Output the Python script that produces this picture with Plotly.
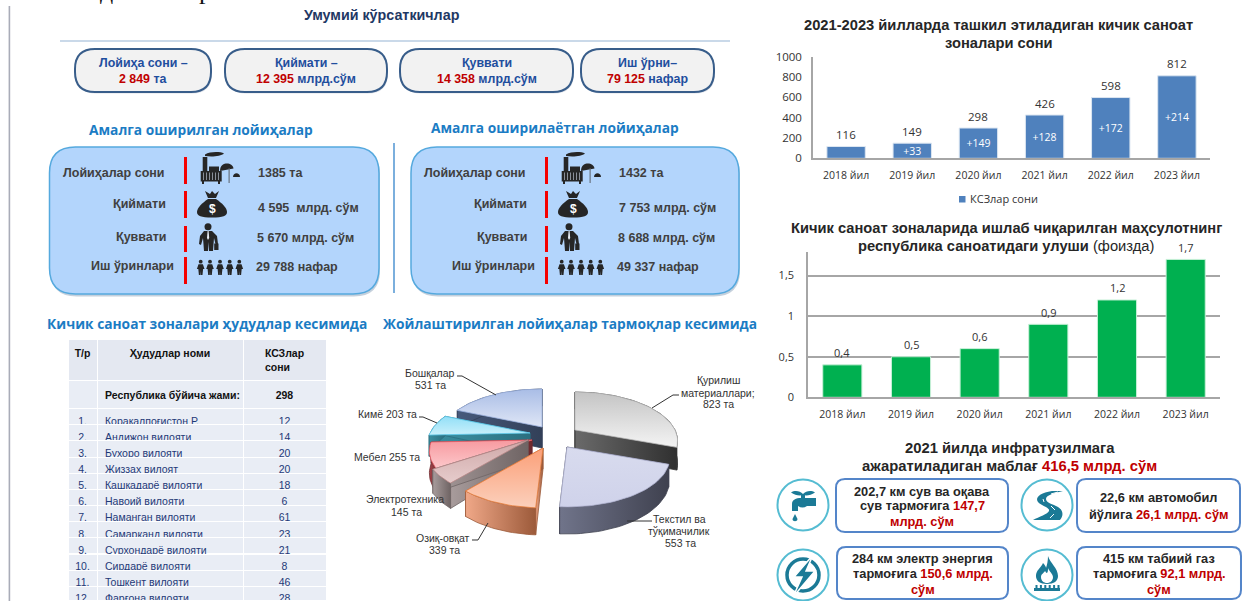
import math
import re
import plotly.graph_objects as go

W, H = 1249, 601

# ---------- data ----------
years = ["2018 йил", "2019 йил", "2020 йил", "2021 йил", "2022 йил", "2023 йил"]
zone_counts = [116, 149, 298, 426, 598, 812]
zone_increments = [None, 33, 149, 128, 172, 214]
industry_shares = [0.4, 0.5, 0.6, 0.9, 1.2, 1.7]

sector_names = ["Қурилиш материаллари;", "Текстил ва тўқимачилик", "Озиқ-овқат", "Электротехника", "Мебел", "Кимё", "Бошқалар"]
sector_counts = [823, 553, 339, 145, 255, 203, 531]

region_numbers = ["1.", "2.", "3.", "4.", "5.", "6.", "7.", "8.", "9.", "10.", "11.", "12.", "13.", "14."]
region_names = ["Қорақалпоғистон Р.", "Андижон вилояти", "Бухоро вилояти", "Жиззах вилоят", "Қашқадарё вилояти",
                "Навоий вилояти", "Наманган вилояти", "Самарканд вилояти", "Сурхондарё вилояти", "Сирдарё вилояти",
                "Тошкент вилояти", "Фарғона вилояти", "Хоразм вилояти", "Тошкент шаҳри"]
region_counts = [12, 14, 20, 20, 18, 6, 61, 23, 21, 8, 46, 28, 13, 8]
region_total = 298

row_labels = ["Лойиҳалар сони", "Қиймати", "Қуввати", "Иш ўринлари"]
done_values = ["1385 та", "4 595  млрд. сўм", "5 670 млрд. сўм", "29 788 нафар"]
ongoing_values = ["1432 та", "7 753 млрд. сўм", "8 688 млрд. сўм", "49 337 нафар"]

# ---------- helpers (pixel -> paper) ----------
SANS = "Liberation Sans"
OPEN = "Open Sans"
shapes, notes = [], []


def fx(x):
    return x / W


def fy(y):
    return 1 - y / H


def T(x, y, text, size=12, color="#404040", bold=False, font=SANS, anchor="center"):
    notes.append(dict(x=fx(x), y=fy(y), xref="paper", yref="paper", text=f"<b>{text}</b>" if bold else text,
                      showarrow=False, xanchor=anchor, yanchor="middle", borderpad=0, borderwidth=0,
                      font=dict(family=font, size=size, color=color), align="center"))


def path(d, ox=0, oy=0, fill="#262626", line=None, lw=0, opacity=1):
    toks = re.findall(r"[A-Za-z]|-?\d+\.?\d*", d)
    out, i = [], 0
    for t in toks:
        if t.isalpha():
            out.append(t)
        else:
            v = float(t)
            out.append(f"{fx(v + ox):.5f}" if i % 2 == 0 else f"{fy(v + oy):.5f}")
            i += 1
    s = dict(type="path", xref="paper", yref="paper", path=" ".join(out), fillcolor=fill, opacity=opacity,
             line=dict(color=line or "rgba(0,0,0,0)", width=lw))
    shapes.append(s)


def rrect(x0, y0, x1, y1, r, fill, line=None, lw=0, opacity=1):
    d = (f"M {x0 + r} {y0} L {x1 - r} {y0} Q {x1} {y0} {x1} {y0 + r} L {x1} {y1 - r} Q {x1} {y1} {x1 - r} {y1} "
         f"L {x0 + r} {y1} Q {x0} {y1} {x0} {y1 - r} L {x0} {y0 + r} Q {x0} {y0} {x0 + r} {y0} Z")
    path(d, fill=fill, line=line, lw=lw, opacity=opacity)


def rect(x0, y0, x1, y1, fill):
    shapes.append(dict(type="rect", xref="paper", yref="paper", x0=fx(x0), x1=fx(x1), y0=fy(y0), y1=fy(y1),
                       fillcolor=fill, line=dict(width=0)))


def circle(cx, cy, r, fill="rgba(0,0,0,0)", line=None, lw=0):
    shapes.append(dict(type="circle", xref="paper", yref="paper", x0=fx(cx - r), x1=fx(cx + r), y0=fy(cy - r),
                       y1=fy(cy + r), fillcolor=fill, line=dict(color=line or "rgba(0,0,0,0)", width=lw)))


def seg(pts, color="#333333", w=1.0):
    shapes.append(dict(type="path", xref="paper", yref="paper",
                       path="M " + " L ".join(f"{fx(x):.5f} {fy(y):.5f}" for x, y in pts),
                       line=dict(color=color, width=w)))


# ---------- page furniture ----------
rect(8.6, 6, 10.2, 601, "#a9acb8")
for x, ch in [(57, "ч"), (106, "д"), (205, "р")]:
    T(x, -10, ch, size=26, color="#111111", font="Liberation Serif")

T(382, 15.5, "Умумий кўрсаткичлар", 14.3, "#1f3864", True)
rect(60, 40.2, 730, 41.8, "#b9cde2")

NAVY, BLUE, RED = "#385d8a", "#1f4e9e", "#c00000"
pills = [(75, 211, "Лойиҳа сони –", "2 849", " та"),
         (225, 387, "Қиймати –", "12 395", " млрд.сўм"),
         (400, 573, "Қуввати", "14 358", " млрд.сўм"),
         (581, 714, "Иш ўрни–", "79 125", " нафар")]
for x0, x1, a, b, c in pills:
    rrect(x0 + 1, 50, x1 + 1, 93.5, 20, "#c9cfd8", opacity=0.6)
    rrect(x0, 49, x1, 92, 20, "#f2f2f2", NAVY, 2)
    xc = (x0 + x1) / 2
    T(xc, 63, a, 12.4, BLUE, True)
    T(xc, 78.5, f'<span style="color:{RED}">{b}</span>{c}', 12.4, BLUE, True)

HEAD = "#1b7cc4"
T(201, 129, "Амалга оширилган лойиҳалар", 13.75, HEAD, True, OPEN)
T(555, 127, "Амалга оширилаётган лойиҳалар", 13.75, HEAD, True, OPEN)
T(207, 323, "Кичик саноат зоналари ҳудудлар кесимида", 13.75, HEAD, True, OPEN)
T(570, 323, "Жойлаштирилган лойиҳалар тармоқлар кесимида", 13.75, HEAD, True, OPEN)
rect(393.2, 143, 394.8, 293, "#5b9bd5")


# ---------- icons ----------
def icons_panel(o):
    D = "#262626"
    path("M 205 154.5 C 210 151.5 220 151.5 224 153.5 C 221 156.5 211 157 205 156 Z", o, 0, D)
    rect(202.7 + o, 157, 207.3 + o, 172, D)
    rect(209 + o, 166.5, 219 + o, 172, D)
    rect(200.7 + o, 171, 221.7 + o, 181.5, D)
    for i in range(6):
        rect(203 + o + 3 * i, 172.5, 204 + o + 3 * i, 180, "#8a8f98")
    rect(202 + o, 181, 204 + o, 184, D)
    rect(218 + o, 181, 220 + o, 184, D)
    path("M 220 171 C 220 165 224 163.5 227 163.5 C 230 163.5 233 165 233.5 168.5 L 220 171 Z", o, 0, D)
    rect(228.6 + o, 168, 229.6 + o, 183, "#5b6068")
    path("M 233 177 C 233 172 240 172 240 177 Z", o, 0, D)
    # money bag
    path("M 205 191 L 210 194 L 212 191 L 215 194 L 219 191 L 216 198 L 208 198 Z", o, 0, D)
    path("M 208 199 L 216 199 C 222 203 227 208 227 212 C 227 216 223 217.5 212 217.5 "
         "C 201 217.5 197 216 197 212 C 197 208 202 203 208 199 Z", o, 0, D)
    T(212 + o, 208.5, "$", 12, "#ffffff", True)
    # man
    circle(208 + o, 226.8, 3.5, D)
    path("M 204 231 L 212 231 L 217 236 L 218 244 L 215.5 244 L 214 238 L 213 251 L 209 251 L 208.5 242 "
         "L 208 251 L 204 251 L 203 238 L 201 245 L 199 244 L 200 236 Z", o, 0, D)
    rect(214.2 + o, 243.5, 218.5 + o, 250, D)
    path("M 207.6 231 L 208.6 231 L 209.2 238 L 208 240 L 207 238 Z", o, 0, "#e8eef6")
    # people
    for c in (200.7, 210, 220, 229.7, 239.3):
        circle(c + o, 261.7, 1.9, D)
        path(f"M {c - 2.2} 264.2 L {c + 2.2} 264.2 L {c + 3.8} 269 L {c + 2.4} 269 L {c + 1.8} 275 L {c + 0.2} 275 "
             f"L {c} 271 L {c - 0.2} 275 L {c - 1.8} 275 L {c - 2.4} 269 L {c - 3.8} 269 Z", o, 0, D)


LBLUE = "#b3d5fc"
for x0, x1, vals, off in [(49.5, 379, done_values, 0), (411, 739, ongoing_values, 361)]:
    rrect(x0 + 1, 149, x1 + 1, 296.5, 26, "#9eb0c4", opacity=0.6)
    rrect(x0, 147, x1, 294, 26, LBLUE, "#55a9de", 1.5)
    for y0, y1 in [(157, 184), (191, 218), (226, 252), (257, 284)]:
        rect(184 + off, y0, 187 + off, y1, "#f50000")
    T(165 + off, 173, row_labels[0], 12.5, "#404040", True, anchor="right")
    T(166 + off, 204, row_labels[1], 12.5, "#404040", True, anchor="right")
    T(167 + off, 237, row_labels[2], 12.5, "#404040", True, anchor="right")
    T(174 + off, 266, row_labels[3], 12.5, "#404040", True, anchor="right")
    T(258 + off, 173, vals[0], 12.5, "#404040", True, anchor="left")
    T(258 + off, 208, vals[1], 12.5, "#404040", True, anchor="left")
    T(257 + off, 238, vals[2], 12.5, "#404040", True, anchor="left")
    T(256 + off, 267, vals[3], 12.5, "#404040", True, anchor="left")
    icons_panel(off)

# ---------- infrastructure block ----------
TEAL, RING, EDGE = "#1b7a96", "#55bcd2", "#5485c9"
T(1010, 448, "2021 йилда инфратузилмага", 14.8, "#262626", True)
T(1009, 466, f'ажаратиладиган маблағ <span style="color:{RED}">416,5 млрд. сўм</span>', 14.8, "#262626", True)


def R(s):
    return f'<span style="color:{RED}">{s}</span>'


boxes = [(836, 479, 1008, 532, [(491, "202,7 км сув ва оқава"), (505.5, "сув тармоғига " + R("147,7")), (521, R("млрд. сўм"))]),
         (1077, 479, 1240, 532, [(497, "22,6 км автомобил"), (514, "йўлига " + R("26,1 млрд. сўм"))]),
         (837, 547, 1008, 599, [(558, "284 км электр энергия"), (573.5, "тармоғига " + R("150,6 млрд.")), (589, R("сўм"))]),
         (1077, 547, 1241, 599, [(558, "415 км табиий газ"), (573.5, "тармоғига " + R("92,1 млрд.")), (589, R("сўм"))])]
for x0, y0, x1, y1, lines in boxes:
    rrect(x0, y0, x1, y1, 9, "#ffffff", EDGE, 2)
    for y, s in lines:
        T((x0 + x1) / 2, y, s, 12.8, "#262626", True)

for cx, cy in [(803, 505), (1047, 505), (803, 575), (1047, 575)]:
    circle(cx, cy, 25.5, "#ffffff", RING, 2)
# tap
cx, cy = 803, 505
path("M -12 -12.5 C -8 -15 -3 -14 0 -11 C 3 -14 8 -15 12 -12.5 C 8 -9.5 3 -9 0 -10 C -3 -9 -8 -9.5 -12 -12.5 Z", cx, cy, TEAL)
path("M -11 -1 C -11 -5 -7 -7 -2 -7 L -2 -10 L 2 -10 L 2 -7 L 13 -7 L 13 1 L 4 1 C 1 3 -2 3 -5 1 L -5 6 L -11 6 Z", cx, cy, TEAL)
path("M -7.5 9 L -5 14 C -5 17 -10 17 -10 14 Z", cx - 0.5, cy, TEAL)
# road
cx, cy = 1047, 505
path("M 16 -14 L 5 -14 C -8 -12 -12 -7 -9 -3 C -6 1 3 2 2 6 C 1 9 -8 12 -14 15 L 13 15 C 17 10 16 5 11 2 "
     "C 6 -1 -1 -2 -1 -6 C -1 -10 8 -12 16 -14 Z", cx, cy, TEAL)
path("M 11 -13 L 4 -11 M -4 -6 L -3 -3 M 4 1 L 8 5 M 7 9 L 3 13", cx, cy, "rgba(0,0,0,0)", "#ffffff", 1)
# lightning
cx, cy = 803, 575
circle(cx, cy, 16, "rgba(0,0,0,0)", TEAL, 3.5)
path("M 10 -20 L -9 2 L -1 2 L -10 22 L 12 -4 L 3 -4 L 10 -20 Z", cx, cy, TEAL, "#ffffff", 1.5)
# flame
cx, cy = 1047, 575
path("M 1 -19 C 3 -12 11 -7 11 1 C 11 6 7 9 0 9 C -7 9 -11 6 -11 1 C -11 -5 -6 -7 -4 -12 C -2 -10 -1 -8 -1 -7 C 0 -10 1 -14 1 -19 Z", cx, cy, TEAL)
path("M 1 -7 C 2 -4 6 -1 6 2 C 6 6 3 8 0 8 C -3 8 -6 6 -6 2 C -6 -1 -3 -2 -2 -4 C -1 -3 -1 -2 0 -2 C 1 -3 1 -5 1 -7 Z", cx, cy, "#ffffff")
rect(cx - 13, cy + 13, cx + 13, cy + 16, TEAL)
for i in range(6):
    rect(cx - 11.5 + i * 4.4, cy + 10, cx - 9.5 + i * 4.4, cy + 13, TEAL)

# ---------- chart titles ----------
T(998, 25, "2021-2023 йилларда ташкил этиладиган кичик саноат", 14.7, "#262626", True)
T(999, 42.5, "зоналари сони", 14.7, "#262626", True)
T(1006, 228, "Кичик саноат зоналарида ишлаб чиқарилган маҳсулотнинг", 14.7, "#262626", True)
T(1006, 246, "<b>республика саноатидаги улуши</b> (фоизда)", 14.7, "#262626")

# legend of the first chart
rect(959, 196, 965.5, 202.5, "#4f81bd")
T(970, 199, "КСЗлар сони", 11, "#333333", font=OPEN, anchor="left")

# ---------- bar charts ----------
fig = go.Figure()
fig.add_trace(go.Bar(x=years, y=zone_counts, width=0.58, name="КСЗлар сони",
                     marker=dict(color="#4f81bd", line=dict(color="#dce6f1", width=1)),
                     text=["" if v is None else f"+{v}" for v in zone_increments], textposition="inside",
                     insidetextanchor="middle", textangle=0, constraintext="none",
                     insidetextfont=dict(family=OPEN, size=10.5, color="#ffffff"), xaxis="x", yaxis="y", showlegend=False))
fig.add_trace(go.Bar(x=years, y=industry_shares, width=0.57, marker=dict(color="#00b050", line=dict(color="#c8f0d8", width=1)),
                     xaxis="x2", yaxis="y2", showlegend=False))
for yr, v in zip(years, zone_counts):
    notes.append(dict(x=yr, y=v, xref="x", yref="y", yshift=12, text=str(v), showarrow=False, yanchor="middle",
                      font=dict(family=OPEN, size=11.5, color="#333333")))
for yr, v in zip(years, industry_shares):
    notes.append(dict(x=yr, y=v, xref="x2", yref="y2", yshift=12, text=f"{v}".replace(".", ","), showarrow=False,
                      yanchor="middle", font=dict(family=OPEN, size=11, color="#333333")))

# ---------- exploded pie, built from the sector counts ----------
PIE_APEX = [(575, 430), (567, 447), (543, 448), (528, 440), (532, 440), (530, 433), (542, 427)]
PIE_TOP = [("#f4f4f4", "#c4c4c4"), ("#cfd2ea", "#d8dbee"), ("#fbd0bc", "#fb9f78"), ("#e6cccc", "#cfa8a8"),
           ("#fdc9cc", "#f79aa0"), ("#c9f0fb", "#92dff7"), ("#dfe6f6", "#a9bde6")]
PIE_WALL = [("#6a6a6a", "#303030"), ("#70748a", "#3f414f"), ("#f0a888", "#9c5a3a"), ("#a89c9c", "#6f6464"),
            ("#a8474c", "#6f2a2e"), ("#3b8fa0", "#2b6f80"), ("#475a7c", "#324058")]
PIE_EDGE = ["#b8b8b8", "#b0b3d0", "#e8803f", "#b98888", "#e8606a", "#5cc8ea", "#9db3e0"]
PIE_DRAW = [6, 0, 5, 4, 3, 2, 1]
RX, RY, KP, DEPTH = 100, 46.5, 0.224, 21


def warp(a):
    return a + 11 * math.exp(-((a - 150) / 60) ** 2)


def proj(a):
    t = math.radians(warp(a))
    u, v = math.sin(t), -math.cos(t)
    s = 1 - KP * v
    return u * RX / s, v * RY / s, s


total = sum(sector_counts)
spans, start = [], 0.0
for c in sector_counts:
    spans.append((start, start + 360 * c / total))
    start += 360 * c / total


def poly(xs, ys, colors, kind="horizontal", edge=None):
    fig.add_trace(go.Scatter(x=xs + xs[:1], y=ys + ys[:1], mode="lines", fill="toself",
                             fillgradient=dict(type=kind, colorscale=[[0, colors[0]], [1, colors[1]]]),
                             line=dict(color=edge or colors[1], width=0.8), xaxis="x3", yaxis="y3",
                             showlegend=False, hoverinfo="skip"))


for i in PIE_DRAW:
    a0, a1 = spans[i]
    ax, ay = PIE_APEX[i]
    n = max(3, int((a1 - a0) / 2))
    angs = [a0 + (a1 - a0) * k / n for k in range(n + 1)]
    pts = [proj(a) for a in angs]
    tx = [ax + p[0] for p in pts]
    ty = [ay + p[1] for p in pts]
    dz = [DEPTH / p[2] for p in pts]
    # radial faces
    for k in (0, n):
        poly([ax, tx[k], tx[k], ax], [ay, ty[k], ty[k] + dz[k], ay + DEPTH], PIE_WALL[i])
    # outer wall
    poly(tx + tx[::-1], ty + [y + d for y, d in zip(ty[::-1], dz[::-1])], PIE_WALL[i])
    # top
    poly([ax] + tx, [ay] + ty, PIE_TOP[i], "vertical", PIE_EDGE[i])

# pie labels
PIE_FS, PIE_C = 10.5, "#333333"
T(718, 380, "Қурилиш", PIE_FS, PIE_C)
T(718, 392.5, "материаллари;", PIE_FS, PIE_C)
T(718, 403.5, f"{sector_counts[0]} та", PIE_FS, PIE_C)
T(679, 519, "Текстил ва", PIE_FS, PIE_C)
T(679, 531, "тўқимачилик", PIE_FS, PIE_C)
T(681, 542.5, f"{sector_counts[1]} та", PIE_FS, PIE_C)
T(443, 538, sector_names[2], PIE_FS, PIE_C)
T(444, 550, f"{sector_counts[2]} та", PIE_FS, PIE_C)
T(405, 499, sector_names[3], PIE_FS, PIE_C)
T(406, 512, f"{sector_counts[3]} та", PIE_FS, PIE_C)
T(387, 457, f"{sector_names[4]} {sector_counts[4]} та", PIE_FS, PIE_C)
T(387, 414, f"{sector_names[5]} {sector_counts[5]} та", PIE_FS, PIE_C)
T(430, 373, sector_names[6], PIE_FS, PIE_C)
T(430, 385, f"{sector_counts[6]} та", PIE_FS, PIE_C)
for pts in [[(679, 395), (673, 395), (652, 408)], [(457, 376), (462, 376), (496, 395)], [(419, 417), (423, 417), (437, 423)],
            [(472, 540), (478, 540), (488, 523)], [(652, 521), (627, 521)]]:
    seg(pts)

# ---------- table ----------
TXT, DARK = "#1f3a78", "#111111"
fig.add_trace(go.Table(
    domain=dict(x=[fx(68), fx(326)], y=[0, fy(339)]),
    columnwidth=[29, 146, 83],
    header=dict(values=["<b>Т/р</b>", "<b>Ҳудудлар номи</b>", "<b>КСЗлар сони</b>"], height=19,
                fill_color="#e4e8f1", line=dict(color="#ffffff", width=1), align="center",
                font=dict(family=SANS, size=10.5, color="#111111")),
    cells=dict(values=[["\u00a0"] + region_numbers,
                       ["<b>Республика\u00a0бўйича\u00a0жами:</b>"] + region_names,
                       [f"<b>{region_total}</b>"] + [str(v) for v in region_counts]],
               height=16.15, fill_color="#e9edf5", line=dict(color="#ffffff", width=1),
               align=["center", "left", "center"],
               font=dict(family=SANS, size=10.5, color=[[TXT] * 15, [DARK] + [TXT] * 14, [DARK] + [TXT] * 14]))))

AX = "#a6a6a6"
fig.update_layout(
    width=W, height=H, margin=dict(l=0, r=0, t=0, b=0, autoexpand=False), paper_bgcolor="#ffffff", plot_bgcolor="rgba(0,0,0,0)",
    barmode="overlay", bargap=0.42, hovermode=False, showlegend=False,
    shapes=shapes, annotations=notes,
    xaxis=dict(domain=[fx(813), fx(1210)], anchor="y", showgrid=False, linecolor=AX, linewidth=1.5, ticks="", ticklabelstandoff=6,
               tickfont=dict(family=OPEN, size=10.5, color="#333333"), categoryorder="array", categoryarray=years),
    yaxis=dict(domain=[fy(158.3), fy(56.7)], anchor="x", range=[0, 1000], tickvals=[0, 200, 400, 600, 800, 1000], showgrid=False,
               showline=True, linecolor=AX, linewidth=1.5, ticks="", ticklabelstandoff=7, zeroline=False,
               tickfont=dict(family=OPEN, size=11.5, color="#333333")),
    xaxis2=dict(domain=[fx(808), fx(1220)], anchor="y2", showgrid=False, linecolor=AX, linewidth=1.5, ticks="", ticklabelstandoff=6,
                tickfont=dict(family=OPEN, size=10.5, color="#333333"), categoryorder="array", categoryarray=years),
    yaxis2=dict(domain=[fy(397.3), fy(251.7)], anchor="x2", range=[0, 1.795], tickvals=[0, 0.5, 1, 1.5],
                ticktext=["0", "0,5", "1", "1,5"], showgrid=True, gridcolor=AX, gridwidth=1.5, showline=True, linecolor=AX, linewidth=1.5,
                ticks="", ticklabelstandoff=10, zeroline=False, tickfont=dict(family=OPEN, size=11, color="#333333")),
    xaxis3=dict(domain=[0, 1], range=[0, W], visible=False, anchor="y3", fixedrange=True),
    yaxis3=dict(domain=[0, 1], range=[H, 0], visible=False, anchor="x3", fixedrange=True),
)

fig.write_html("out.html", config=dict(displayModeBar=False),
               post_script="document.body.style.margin='0';document.documentElement.style.overflow='hidden';")
